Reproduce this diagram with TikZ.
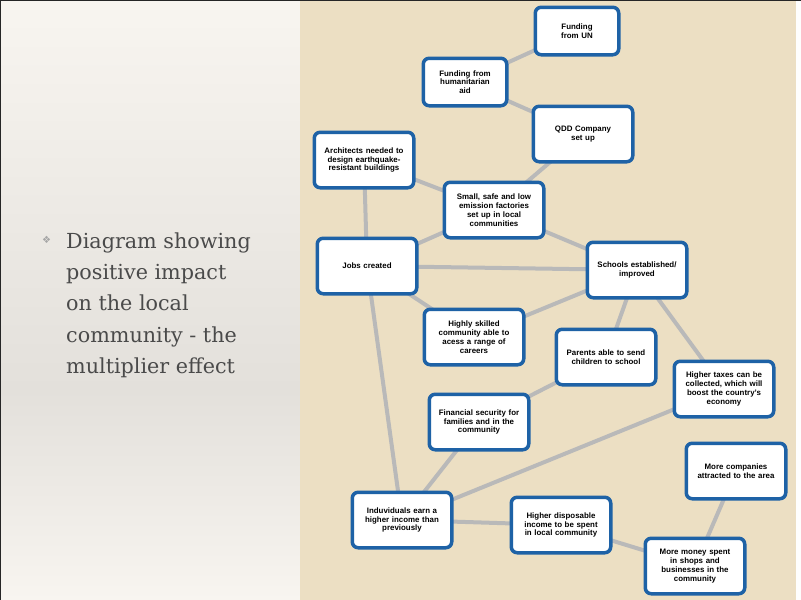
\documentclass[tikz,border=0pt]{standalone}
\usepackage{fontspec}
\setsansfont{Liberation Sans}
\newfontfamily\symfont{DejaVu Sans}
\newfontfamily\leftfont{DejaVu Serif}
\usetikzlibrary{backgrounds}
\definecolor{boxblue}{HTML}{1E62A6}
\definecolor{linkgray}{HTML}{B9B9B9}
\definecolor{beige}{HTML}{ECDFC3}
\definecolor{lighttop}{HTML}{F8F5F0}
\definecolor{midgray}{HTML}{E3E0DB}
\definecolor{textgray}{HTML}{4A4A4A}
\tikzset{
  box/.style={draw=boxblue, line width=3.5pt, rounded corners=6pt, fill=white,
    minimum width=99.5pt, minimum height=55.5pt, align=center, text width=94pt,
    inner sep=1pt, font=\sffamily\bfseries\fontsize{7.9}{8.8}\selectfont},
  smallbox/.style={box, minimum width=83.5pt, minimum height=47.5pt, text width=80pt},
  link/.style={draw=linkgray, line width=4pt},
  lefttext/.style={anchor=base west, inner sep=0pt, text=textgray,
    font=\leftfont\fontsize{20.7}{31}\selectfont}
}
\begin{document}
\begin{tikzpicture}[x=1pt,y=-1pt]
\useasboundingbox (0,0) rectangle (801,600);

\node[lefttext, text=black!35, font=\symfont\fontsize{10}{12}\selectfont] (bul) at (42,243) {❖};
\node[lefttext] (l1) at (66,248) {Diagram showing};
\node[lefttext] (l2) at (66,279) {positive impact};
\node[lefttext] (l3) at (66,310) {on the local};
\node[lefttext] (l4) at (66,342) {community - the};
\node[lefttext] (l5) at (66,373) {multiplier effect};

\node[smallbox] (un) at (577,31) {Funding\\from UN};
\node[smallbox] (hum) at (465,82) {Funding from\\humanitarian\\aid};
\node[box] (qdd) at (583,134) {QDD Company\\set up};
\node[box] (arch) at (364,160) {Architects needed to\\design earthquake-\\resistant buildings};
\node[box] (fac) at (494,210) {Small, safe and low\\emission factories\\set up in local\\communities};
\node[box] (jobs) at (367,266) {Jobs created};
\node[box] (sch) at (637,270) {Schools established/\\improved};
\node[box] (skill) at (474,337) {Highly skilled\\community able to\\acess a range of\\careers};
\node[box] (par) at (606,357) {Parents able to send\\children to school};
\node[box] (tax) at (724,389) {Higher taxes can be\\collected, which will\\boost the country's\\economy};
\node[box] (fin) at (479,422) {Financial security for\\families and in the\\community};
\node[box] (comp) at (736,471) {More companies\\attracted to the area};
\node[box] (ind) at (402,520) {Induviduals earn a\\higher income than\\previously};
\node[box] (disp) at (561,525) {Higher disposable\\income to be spent\\in local community};
\node[box] (shop) at (695,566) {More money spent\\in shops and\\businesses in the\\community};

\begin{scope}[on background layer]
\shade[top color=lighttop, bottom color=midgray] (0,0) rectangle (300,390);
\shade[top color=midgray, bottom color=lighttop] (0,390) rectangle (300,600);
\fill[beige] (300,0) rectangle (796,600);
\fill[white!96!beige] (796,0) rectangle (801,600);
\fill[black!85] (0,0) rectangle (801,1.2);
\fill[black!85] (0,0) rectangle (1.2,600);
\draw[link] (un.center) -- (hum.center);
\draw[link] (hum.center) -- (qdd.center);
\draw[link] (qdd.center) -- (fac.center);
\draw[link] (arch.center) -- (fac.center);
\draw[link] (arch.center) -- (jobs.center);
\draw[link] (fac.center) -- (jobs.center);
\draw[link] (fac.center) -- (sch.center);
\draw[link] (jobs.center) -- (sch.center);
\draw[link] (jobs.center) -- (skill.center);
\draw[link] (skill.center) -- (sch.center);
\draw[link] (sch.center) -- (par.center);
\draw[link] (sch.center) -- (tax.center);
\draw[link] (jobs.center) -- (ind.center);
\draw[link] (par.center) -- (fin.center);
\draw[link] (fin.center) -- (ind.center);
\draw[link] (tax.center) -- (ind.center);
\draw[link] (ind.center) -- (disp.center);
\draw[link] (disp.center) -- (shop.center);
\draw[link] (comp.center) -- (shop.center);
\end{scope}
\end{tikzpicture}
\end{document}
